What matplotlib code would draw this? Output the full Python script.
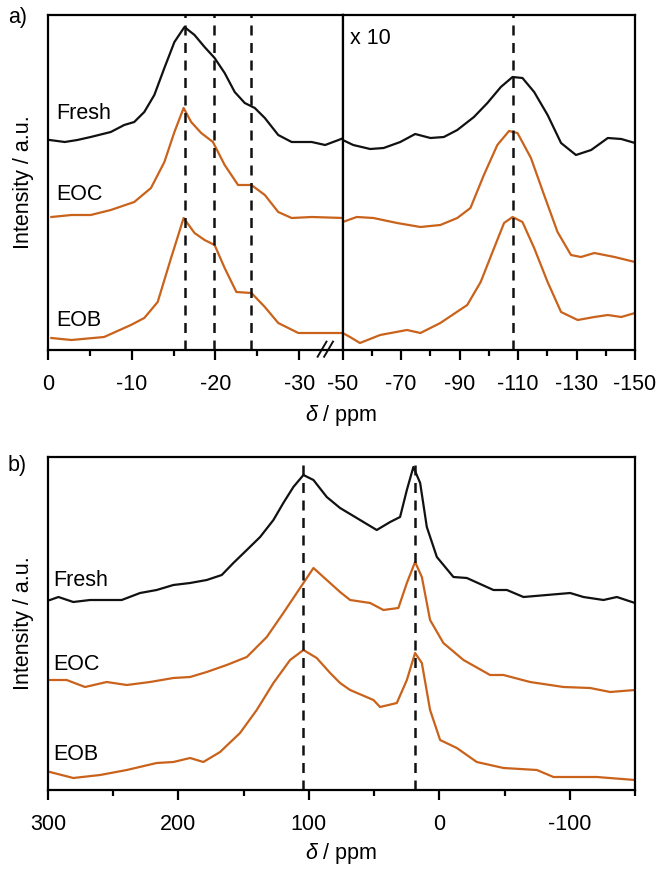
import matplotlib
matplotlib.use("Agg")
import matplotlib.pyplot as plt

plt.rcParams['font.family'] = ['Liberation Sans', 'DejaVu Sans']
plt.rcParams['mathtext.fontset'] = 'custom'
plt.rcParams['mathtext.it'] = 'Liberation Sans:italic'
plt.rcParams['mathtext.rm'] = 'Liberation Sans'

BLACK = '#111111'
ORANGE = '#c9621b'
FS = 15.5

# ---- panel a, left part (0 .. -35 ppm) ----
a_fresh_x = [-0.2, -2.0, -3.5, -5.1, -7.5, -9.1, -10.3, -11.5, -12.7, -13.9, -15.1, -16.3, -17.5,
             -18.7, -19.9, -21.1, -22.3, -23.5, -24.7, -25.9, -27.5, -29.1, -31.5, -33.1, -34.7, -35.3]
a_fresh_y = [210, 208, 210, 213, 218, 225, 228, 238, 255, 282, 308, 323, 315,
             303, 292, 277, 258, 247, 242, 232, 215, 208, 208, 205, 210, 212]

a_eoc_x = [-0.4, -2.8, -5.1, -7.5, -10.3, -12.3, -13.9, -15.1, -16.2, -17.1, -18.3, -19.7,
           -21.1, -22.7, -24.3, -25.9, -27.5, -29.1, -31.5, -35.3]
a_eoc_y = [133, 135, 135, 140, 148, 162, 188, 218, 242, 228, 217, 208,
           185, 165, 165, 155, 138, 132, 133, 132]

a_eob_x = [-0.4, -2.8, -6.7, -9.9, -11.5, -13.1, -14.7, -16.2, -17.5, -18.7, -19.9, -21.1,
           -22.5, -24.3, -25.9, -27.5, -29.9, -31.5, -35.3]
a_eob_y = [12, 10, 13, 25, 32, 48, 92, 132, 117, 110, 105, 82,
           58, 57, 43, 27, 17, 17, 17]

# ---- panel a, right part (-50 .. -150 ppm, x 10) ----
a_fresh_x2 = [-50, -53.6, -59.4, -64, -69.7, -74.8, -80, -84.6, -89.2, -94.9, -99.5, -104.1,
              -108.1, -111.5, -115.5, -120.1, -124.7, -129.8, -135, -140.7, -145.3, -150]
a_fresh_y2 = [210, 205, 201, 202, 208, 216, 212, 213, 220, 233, 247, 263,
              273, 272, 258, 235, 207, 195, 200, 212, 211, 207]

a_eoc_x2 = [-50, -54.8, -60.5, -68.6, -76.6, -83.4, -89.2, -93.7, -98.3, -102.9, -106.9,
            -109.8, -114.4, -118.9, -123.5, -128.1, -131.5, -136.1, -143, -150]
a_eoc_y2 = [128, 133, 132, 127, 123, 125, 132, 142, 175, 205, 219,
            217, 192, 155, 118, 95, 93, 97, 93, 88]

a_eob_x2 = [-50, -52.5, -55.9, -62.8, -72, -76.6, -83.4, -92.6, -97.2, -101.8, -105.2,
            -108.1, -111.5, -115.5, -120.1, -124.7, -130.4, -136.1, -140.7, -145.3, -150]
a_eob_y2 = [17, 13, 7, 15, 20, 17, 27, 45, 68, 102, 127,
            133, 128, 102, 68, 38, 30, 33, 35, 33, 37]

a_lines_left = [-16.4, -19.8, -24.3]
a_lines_right = [-108.4]

# ---- panel b ----
b_fresh_x = [298.5, 292, 280.6, 267.8, 243.5, 229.4, 216.7, 203.9, 191.1, 178.3, 166.8, 157.9,
             147.6, 137.4, 127.2, 119.6, 111.9, 104.2, 96.5, 86.3, 76.1, 63.3, 48, 37.7, 30.1,
             24.9, 19.9, 14.7, 9.6, 1.9, -10.8, -21.1, -41.5, -51.8, -64.5, -82.4, -100.3,
             -110.5, -125.8, -136.1, -150]
b_fresh_y = [190, 193, 188, 190, 190, 197, 200, 205, 207, 210, 215, 227,
             240, 253, 270, 287, 303, 315, 310, 293, 282, 272, 260, 268, 273,
             300, 323, 307, 263, 233, 213, 212, 200, 200, 193, 195, 197,
             193, 190, 193, 187]

b_eoc_x = [298.5, 285.7, 271.6, 255, 239.6, 221.8, 203.9, 191.1, 178.3, 163, 147.6, 132.3,
           119.6, 104.2, 96.5, 86.3, 76.1, 68.4, 53, 42.9, 31.4, 24.9, 18.6, 13.4, 7.1,
           -3.1, -18.5, -38.9, -49.2, -69.6, -95.2, -115.6, -131, -150]
b_eoc_y = [110, 110, 103, 108, 105, 108, 112, 113, 118, 125, 133, 153,
           177, 207, 222, 210, 198, 190, 187, 180, 182, 207, 228, 213, 170,
           147, 130, 115, 115, 108, 103, 102, 98, 100]

b_eob_x = [298.5, 280.6, 260.1, 239.6, 216.7, 203.9, 191.1, 180.9, 168.1, 152.8, 140, 127.2,
           114.4, 104.2, 94, 83.7, 76.1, 68.4, 50.5, 45.4, 32.6, 24.9, 18.6, 13.4, 7.1,
           -0.6, -13.4, -28.7, -49.2, -74.8, -87.5, -120.8, -150]
b_eob_y = [18, 12, 15, 20, 27, 28, 32, 28, 38, 57, 80, 107,
           130, 140, 132, 117, 107, 100, 90, 83, 87, 110, 137, 127, 80,
           50, 42, 28, 22, 20, 13, 13, 10]

b_lines = [104.5, 19]

fig = plt.figure(figsize=(6.61, 8.69), dpi=100)

W, H = 661.0, 869.0
axL = fig.add_axes([48 / W, 1 - 350 / H, (342.7 - 48) / W, 335 / H])
axR = fig.add_axes([342.7 / W, 1 - 350 / H, (635 - 342.7) / W, 335 / H])
axB = fig.add_axes([48 / W, 1 - 790 / H, (635 - 48) / W, 333 / H])

for ax in (axL, axR, axB):
    for s in ax.spines.values():
        s.set_linewidth(1.6)
    ax.set_yticks([])
    ax.tick_params(axis='x', which='major', direction='out', length=7, width=1.6,
                   labelsize=FS, pad=10)
    ax.tick_params(axis='x', which='minor', direction='out', length=4.5, width=1.6)

# left part of panel a
axL.plot(a_fresh_x, a_fresh_y, color=BLACK, lw=1.6)
axL.plot(a_eoc_x, a_eoc_y, color=ORANGE, lw=1.6)
axL.plot(a_eob_x, a_eob_y, color=ORANGE, lw=1.6)
for x in a_lines_left:
    axL.axvline(x, color=BLACK, ls=(0, (4, 3)), lw=1.8)
axL.set_xlim(0, -35.2)
axL.set_ylim(0, 335)
axL.set_xticks([0, -10, -20, -30])
axL.set_xticklabels(['0', '-10', '-20', '-30'])
axL.set_xticks([-5, -15, -25], minor=True)
axL.text(-1.0, 237, 'Fresh', fontsize=FS, va='center', ha='left')
axL.text(-1.0, 155, 'EOC', fontsize=FS, va='center', ha='left')
axL.text(-1.0, 30, 'EOB', fontsize=FS, va='center', ha='left')
axL.set_ylabel('Intensity / a.u.', fontsize=FS, labelpad=10)

# axis break marks on the bottom spine
for dx in (0.0, 0.022):
    axL.plot([0.915 + dx, 0.945 + dx], [-0.02, 0.025], color=BLACK, lw=1.4,
             transform=axL.transAxes, clip_on=False)

# right part of panel a
axR.plot(a_fresh_x2, a_fresh_y2, color=BLACK, lw=1.6)
axR.plot(a_eoc_x2, a_eoc_y2, color=ORANGE, lw=1.6)
axR.plot(a_eob_x2, a_eob_y2, color=ORANGE, lw=1.6)
for x in a_lines_right:
    axR.axvline(x, color=BLACK, ls=(0, (4, 3)), lw=1.8)
axR.set_xlim(-50, -150)
axR.set_ylim(0, 335)
axR.set_xticks([-50, -70, -90, -110, -130, -150])
axR.set_xticklabels(['-50', '-70', '-90', '-110', '-130', '-150'])
axR.set_xticks([-60, -80, -100, -120, -140], minor=True)
axR.text(0.025, 0.96, 'x 10', transform=axR.transAxes, fontsize=FS, va='top', ha='left')

fig.text((48 + 635) / 2 / W, 1 - 416 / H, r'$\it{\delta}$ / ppm', fontsize=FS,
         ha='center', va='center')

# panel b
axB.plot(b_fresh_x, b_fresh_y, color=BLACK, lw=1.6)
axB.plot(b_eoc_x, b_eoc_y, color=ORANGE, lw=1.6)
axB.plot(b_eob_x, b_eob_y, color=ORANGE, lw=1.6)
for x in b_lines:
    axB.axvline(x, color=BLACK, ls=(0, (4, 3)), lw=1.8)
axB.set_xlim(300, -150)
axB.set_ylim(0, 333)
axB.set_xticks([300, 200, 100, 0, -100])
axB.set_xticklabels(['300', '200', '100', '0', '-100'])
axB.set_xticks([250, 150, 50, -50, -150], minor=True)
axB.text(296, 210, 'Fresh', fontsize=FS, va='center', ha='left')
axB.text(296, 126, 'EOC', fontsize=FS, va='center', ha='left')
axB.text(296, 35, 'EOB', fontsize=FS, va='center', ha='left')
axB.set_ylabel('Intensity / a.u.', fontsize=FS, labelpad=10)

fig.text((48 + 635) / 2 / W, 1 - 853 / H, r'$\it{\delta}$ / ppm', fontsize=FS,
         ha='center', va='center')

fig.text(8 / W, 1 - 18 / H, 'a)', fontsize=FS, ha='left', va='center')
fig.text(8 / W, 1 - 465 / H, 'b)', fontsize=FS, ha='left', va='center')

fig.savefig('out.png', dpi=100)
